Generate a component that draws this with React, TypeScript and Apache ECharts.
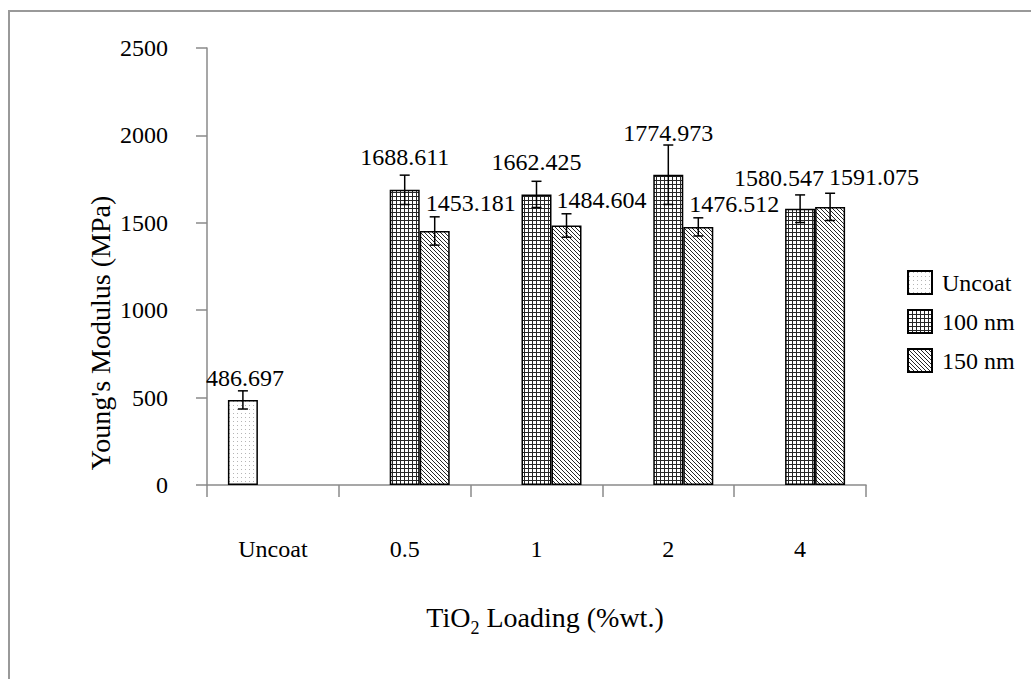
import React, { useEffect, useRef } from "react";
import * as echarts from "echarts";

const categories = ["Uncoat", "0.5", "1", "2", "4"];
const seriesNames = ["Uncoat", "100 nm", "150 nm"];
const uncoatValues: (number | null)[] = [486.697, null, null, null, null];
const nm100Values: (number | null)[] = [null, 1688.611, 1662.425, 1774.973, 1580.547];
const nm150Values: (number | null)[] = [null, 1453.181, 1484.604, 1476.512, 1591.075];
const uncoatErrors: (number | null)[] = [52, null, null, null, null];
const nm100Errors: (number | null)[] = [null, 84, 75, 170, 79];
const nm150Errors: (number | null)[] = [null, 81, 67, 52, 78];
const yTicks = { min: 0, max: 2500, interval: 500 };

// label offsets (style only)
const uncoatLabelOffsets: number[][] = [[2, -10], [0, 0], [0, 0], [0, 0], [0, 0]];
const nm100LabelOffsets: number[][] = [[0, 0], [0, -21], [0, -20], [0, -30], [-21, -19]];
const nm150LabelOffsets: number[][] = [[0, 0], [36, -16], [35, -13], [36, -11], [44, -18]];

const FONT = "'Liberation Serif', 'Times New Roman', serif";
const BAR_W = 30;

function makePattern(kind: string): HTMLCanvasElement {
  const c = document.createElement("canvas");
  const n = 4;
  c.width = n;
  c.height = n;
  const ctx = c.getContext("2d")!;
  ctx.fillStyle = "#ffffff";
  ctx.fillRect(0, 0, n, n);
  if (kind === "dots") {
    ctx.fillStyle = "#b5b5b5";
    ctx.fillRect(1, 1, 1, 1);
  } else if (kind === "grid") {
    ctx.fillStyle = "#262626";
    ctx.fillRect(0, 0, n, 1);
    ctx.fillRect(0, 0, 1, n);
  } else {
    ctx.fillStyle = "#262626";
    for (let i = 0; i < n; i++) ctx.fillRect(i, i, 1, 1);
  }
  return c;
}

export default function App() {
  const ref = useRef<HTMLDivElement>(null);
  useEffect(() => {
    document.body.style.margin = "0";
    const chart = echarts.init(ref.current!, undefined, { renderer: "svg" });
    const patterns = [makePattern("dots"), makePattern("grid"), makePattern("diag")];
    const valueSets = [uncoatValues, nm100Values, nm150Values];
    const errorSets = [uncoatErrors, nm100Errors, nm150Errors];
    const offsetSets = [uncoatLabelOffsets, nm100LabelOffsets, nm150LabelOffsets];

    const barSeries = valueSets.map((vals, si) => ({
      name: seriesNames[si],
      type: "bar",
      barWidth: BAR_W,
      barGap: "0%",
      itemStyle: {
        color: { image: patterns[si], repeat: "repeat" },
        borderColor: "#000",
        borderWidth: 1.5,
      },
      label: {
        show: true,
        position: "top",
        distance: 0,
        fontSize: 24,
        fontFamily: FONT,
        color: "#000",
        formatter: (p: any) => String(p.value),
      },
      data: vals.map((v, i) =>
        v === null ? "-" : { value: v, label: { offset: offsetSets[si][i] } }
      ),
    }));

    const errData: number[][] = [];
    valueSets.forEach((vals, si) => {
      vals.forEach((v, i) => {
        const e = errorSets[si][i];
        if (v !== null && e !== null) errData.push([i, v, e, si - 1]);
      });
    });

    const errorSeries = {
      type: "custom",
      z: 10,
      silent: true,
      encode: { x: 0, y: 1 },
      renderItem: (params: any, api: any) => {
        const ci = api.value(0);
        const v = api.value(1);
        const e = api.value(2);
        const off = api.value(3);
        const c = api.coord([ci, v]);
        const x = c[0] + off * BAR_W;
        const yt = api.coord([ci, v + e])[1];
        const yb = api.coord([ci, v - e])[1];
        const cap = 5;
        const st = { stroke: "#000", lineWidth: 1.5 };
        return {
          type: "group",
          children: [
            { type: "line", shape: { x1: x, y1: yt, x2: x, y2: yb }, style: st },
            { type: "line", shape: { x1: x - cap, y1: yt, x2: x + cap, y2: yt }, style: st },
            { type: "line", shape: { x1: x - cap, y1: yb, x2: x + cap, y2: yb }, style: st },
          ],
        };
      },
      data: errData,
    };

    chart.setOption({
      animation: false,
      backgroundColor: "#fff",
      textStyle: { fontFamily: FONT },
      grid: { left: 207, right: 165, top: 48, bottom: 194, containLabel: false },
      legend: {
        data: seriesNames,
        orient: "vertical",
        left: 902,
        top: 265,
        itemWidth: 24,
        itemHeight: 23,
        itemGap: 14,
        icon: "rect",
        textStyle: { fontSize: 24, fontFamily: FONT, color: "#000", padding: [0, 0, 0, 5] },
      },
      xAxis: {
        type: "category",
        data: categories,
        axisLine: { lineStyle: { color: "#8a8a8a", width: 1.5 } },
        axisTick: { show: true, length: 12, lineStyle: { color: "#8a8a8a", width: 1.5 } },
        axisLabel: { fontSize: 24, fontFamily: FONT, color: "#000", margin: 52 },
        splitLine: { show: false },
      },
      yAxis: {
        type: "value",
        min: yTicks.min,
        max: yTicks.max,
        interval: yTicks.interval,
        axisLine: { show: true, lineStyle: { color: "#8a8a8a", width: 1.5 } },
        axisTick: { show: true, length: 11, lineStyle: { color: "#8a8a8a", width: 1.5 } },
        axisLabel: {
          fontSize: 24,
          fontFamily: FONT,
          color: "#000",
          margin: 39,
          formatter: (v: number) => String(v),
        },
        splitLine: { show: false },
      },
      graphic: [
        {
          type: "rect",
          silent: true,
          shape: { x: 9, y: 11, width: 1200, height: 1000 },
          style: { fill: "none", stroke: "#999", lineWidth: 2 },
        },
        {
          type: "text",
          x: 100,
          y: 333,
          rotation: Math.PI / 2,
          style: {
            text: "Young's Modulus (MPa)",
            align: "center",
            verticalAlign: "middle",
            fontSize: 28,
            fontFamily: FONT,
            fill: "#000",
          },
        },
        {
          type: "text",
          x: 545,
          y: 617,
          style: {
            text: "{a|TiO}{s|2}{a| Loading (%wt.)}",
            align: "center",
            verticalAlign: "middle",
            rich: {
              a: { fontSize: 28, fontFamily: FONT, fill: "#000", lineHeight: 40, verticalAlign: "middle" },
              s: { fontSize: 18, fontFamily: FONT, fill: "#000", lineHeight: 18, verticalAlign: "bottom" },
            },
          },
        },
      ],
      series: [...barSeries, errorSeries],
    });
    return () => chart.dispose();
  }, []);
  return <div ref={ref} style={{ width: 1031, height: 679 }} />;
}
